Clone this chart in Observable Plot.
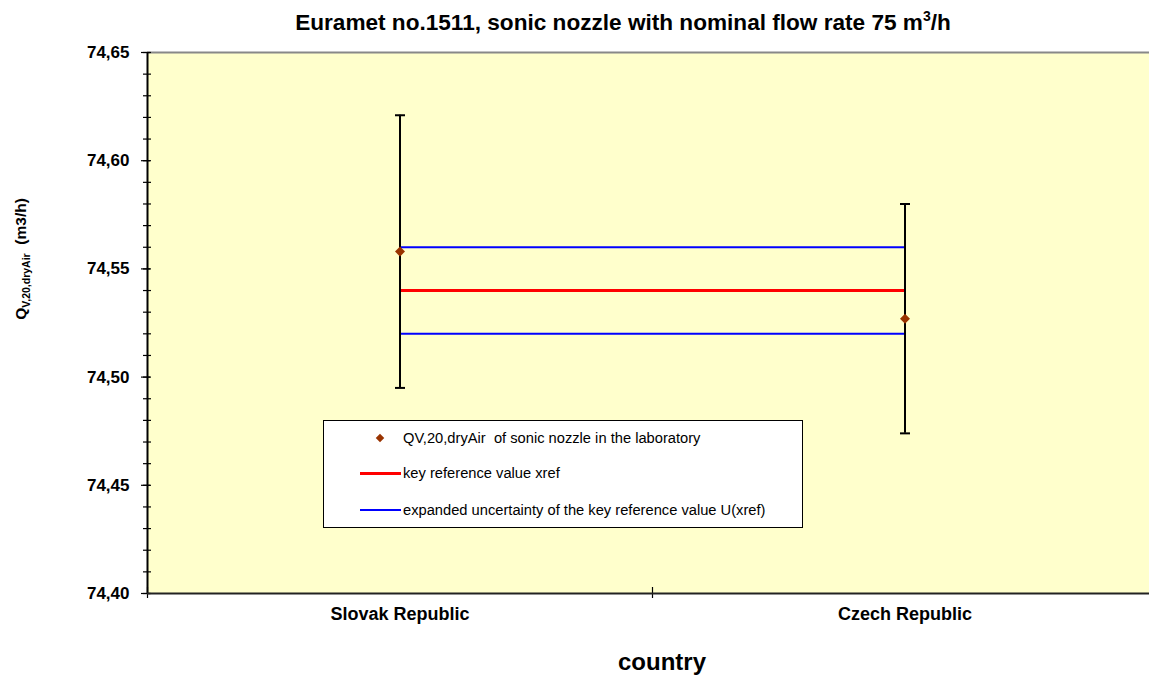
<!DOCTYPE html>
<html>
<head>
<meta charset="utf-8">
<script src="https://cdn.jsdelivr.net/npm/d3@7"></script>
<script src="https://cdn.jsdelivr.net/npm/@observablehq/plot@0.6"></script>
<style>
  html, body { margin: 0; padding: 0; background: #fff; overflow: hidden; }
  #wrap { position: relative; width: 1149px; height: 677px; overflow: hidden; font-family: "Liberation Sans", Arial, sans-serif; color: #000; }
  #title { position: absolute; left: 0; top: 12px; width: 1246px; text-align: center; font-weight: bold; font-size: 22.6px; line-height: 22px; white-space: nowrap; }
  #title sup { font-size: 14px; line-height: 0; vertical-align: 9px; }
  #chart { position: absolute; left: 0; top: 40px; width: 1160px; }
  #chart svg { max-width: none !important; }
  #ylabel { position: absolute; left: 21px; top: 259px; transform: translate(-50%, -50%) rotate(-90deg); font-weight: bold; font-size: 15.5px; white-space: pre; line-height: 18px; }
  #ylabel sub { font-size: 10.5px; line-height: 0; vertical-align: -4px; }
  #xlabel { position: absolute; left: 562px; width: 200px; top: 650px; text-align: center; font-weight: bold; font-size: 24px; line-height: 24px; }
  #legend { position: absolute; left: 323px; top: 420px; width: 480px; height: 108px; box-sizing: border-box; border: 1px solid #000; background: #fff; }
  #legend .txt { position: absolute; left: 79px; font-size: 14.7px; line-height: 16px; white-space: pre; }
  #legend .sw { position: absolute; left: 36px; width: 41px; }
  #legend .dia { position: absolute; left: 53px; width: 6px; height: 6px; background: #993300; transform: rotate(45deg); }
</style>
</head>
<body>
<div id="wrap">
  <div id="title">Euramet no.1511, sonic nozzle with nominal flow rate 75 m<sup>3</sup>/h</div>
  <div id="chart"></div>
  <div id="ylabel">Q<sub>V,20,dryAir</sub>  (m3/h)</div>
  <div id="xlabel">country</div>
  <div id="legend">
    <div class="dia" style="top:14px"></div>
    <div class="txt" style="top:9px">QV,20,dryAir  of sonic nozzle in the laboratory</div>
    <div class="sw" style="top:51px;height:3px;background:#ff0000"></div>
    <div class="txt" style="top:44px">key reference value xref</div>
    <div class="sw" style="top:88px;height:2px;background:#0000ff"></div>
    <div class="txt" style="top:81px">expanded uncertainty of the key reference value U(xref)</div>
  </div>
</div>
<script>
// ---- data ----
const countries = ["Slovak Republic", "Czech Republic"];
const labValues = [74.558, 74.527];      // QV,20,dryAir measured by each laboratory (m3/h)
const labU = [0.063, 0.053];             // expanded uncertainty of each laboratory
const xref = 74.540;                     // key reference value
const Uxref = 0.020;                     // expanded uncertainty of xref
const yDomain = [74.40, 74.65];
const yMajorTicks = [74.40, 74.45, 74.50, 74.55, 74.60, 74.65];
const yMinorStep = 0.01;

// ---- derived tables ----
const rows = countries.map((c, i) => ({country: c, pos: i + 0.5, value: labValues[i], u: labU[i]}));
const capRows = rows.flatMap(d => [{pos: d.pos, y: d.value - d.u}, {pos: d.pos, y: d.value + d.u}]);
const yMinorTicks = d3.range(Math.round((yDomain[1] - yDomain[0]) / yMinorStep) + 1).map(i => +(yDomain[0] + i * yMinorStep).toFixed(2));
const boundaries = d3.range(countries.length + 1);
const fmt = d => d.toFixed(2).replace(".", ",");
const firstPos = rows[0].pos, lastPos = rows[rows.length - 1].pos;

// horizontal cap symbol for the error bars
const capSymbol = {
  draw(context, size) {
    const r = Math.sqrt(size / Math.PI);
    context.moveTo(-r, 0);
    context.lineTo(r, 0);
  }
};

const chart = Plot.plot({
  width: 1160,
  height: 637,
  marginLeft: 147,
  marginRight: 3,
  marginTop: 12,
  marginBottom: 84,
  style: {fontFamily: "'Liberation Sans', Arial, sans-serif", background: "transparent", overflow: "visible", maxWidth: "none"},
  x: {type: "linear", domain: [0, countries.length], axis: null, label: null},
  y: {domain: yDomain, axis: null, label: null},
  marks: [
    Plot.frame({fill: "#FFFFCC", stroke: null}),
    // border lines
    Plot.ruleY([yDomain[1]], {stroke: "#888888", strokeWidth: 2}),
    Plot.ruleX([countries.length], {stroke: "#888888", strokeWidth: 2}),
    // y axis ticks (minor & major) and labels
    Plot.axisY({ticks: yMinorTicks, tickSize: 8, dx: 4, tickFormat: () => "", strokeWidth: 1.2, label: null}),
    Plot.axisY({ticks: yMajorTicks, tickSize: 9, dx: 3, tickFormat: () => "", strokeWidth: 1.2, label: null}),
    Plot.axisY({ticks: yMajorTicks, tickSize: 0, tickPadding: 18, tickFormat: fmt, fontSize: 17, fontWeight: "bold", fill: "#000", label: null}),
    // x axis: category boundary ticks & category labels
    Plot.axisX({ticks: boundaries, tickSize: 11, dy: -6, tickFormat: () => "", strokeWidth: 1.2, label: null}),
    Plot.axisX({ticks: rows.map(d => d.pos), tickSize: 0, tickPadding: 14, tickFormat: p => countries[Math.floor(p)], fontSize: 18, fontWeight: "bold", fill: "#000", label: null}),
    // key reference value and its expanded uncertainty
    Plot.ruleY([xref - Uxref, xref + Uxref], {x1: () => firstPos, x2: () => lastPos, stroke: "#0000FF", strokeWidth: 2}),
    Plot.ruleY([xref], {x1: () => firstPos, x2: () => lastPos, stroke: "#FF0000", strokeWidth: 3}),
    // laboratory error bars
    Plot.ruleX(rows, {x: "pos", y1: d => d.value - d.u, y2: d => d.value + d.u, stroke: "#000", strokeWidth: 2}),
    Plot.dot(capRows, {x: "pos", y: "y", symbol: capSymbol, r: 5, stroke: "#000", strokeWidth: 2, fill: "none"}),
    Plot.dot(rows, {x: "pos", y: "value", symbol: "diamond2", r: 4.5, fill: "#993300", stroke: null}),
    // axis lines
    Plot.ruleX([0], {stroke: "#000", strokeWidth: 2}),
    Plot.ruleY([yDomain[0]], {stroke: "#222", strokeWidth: 2})
  ]
});
document.getElementById("chart").appendChild(chart);
</script>
</body>
</html>
